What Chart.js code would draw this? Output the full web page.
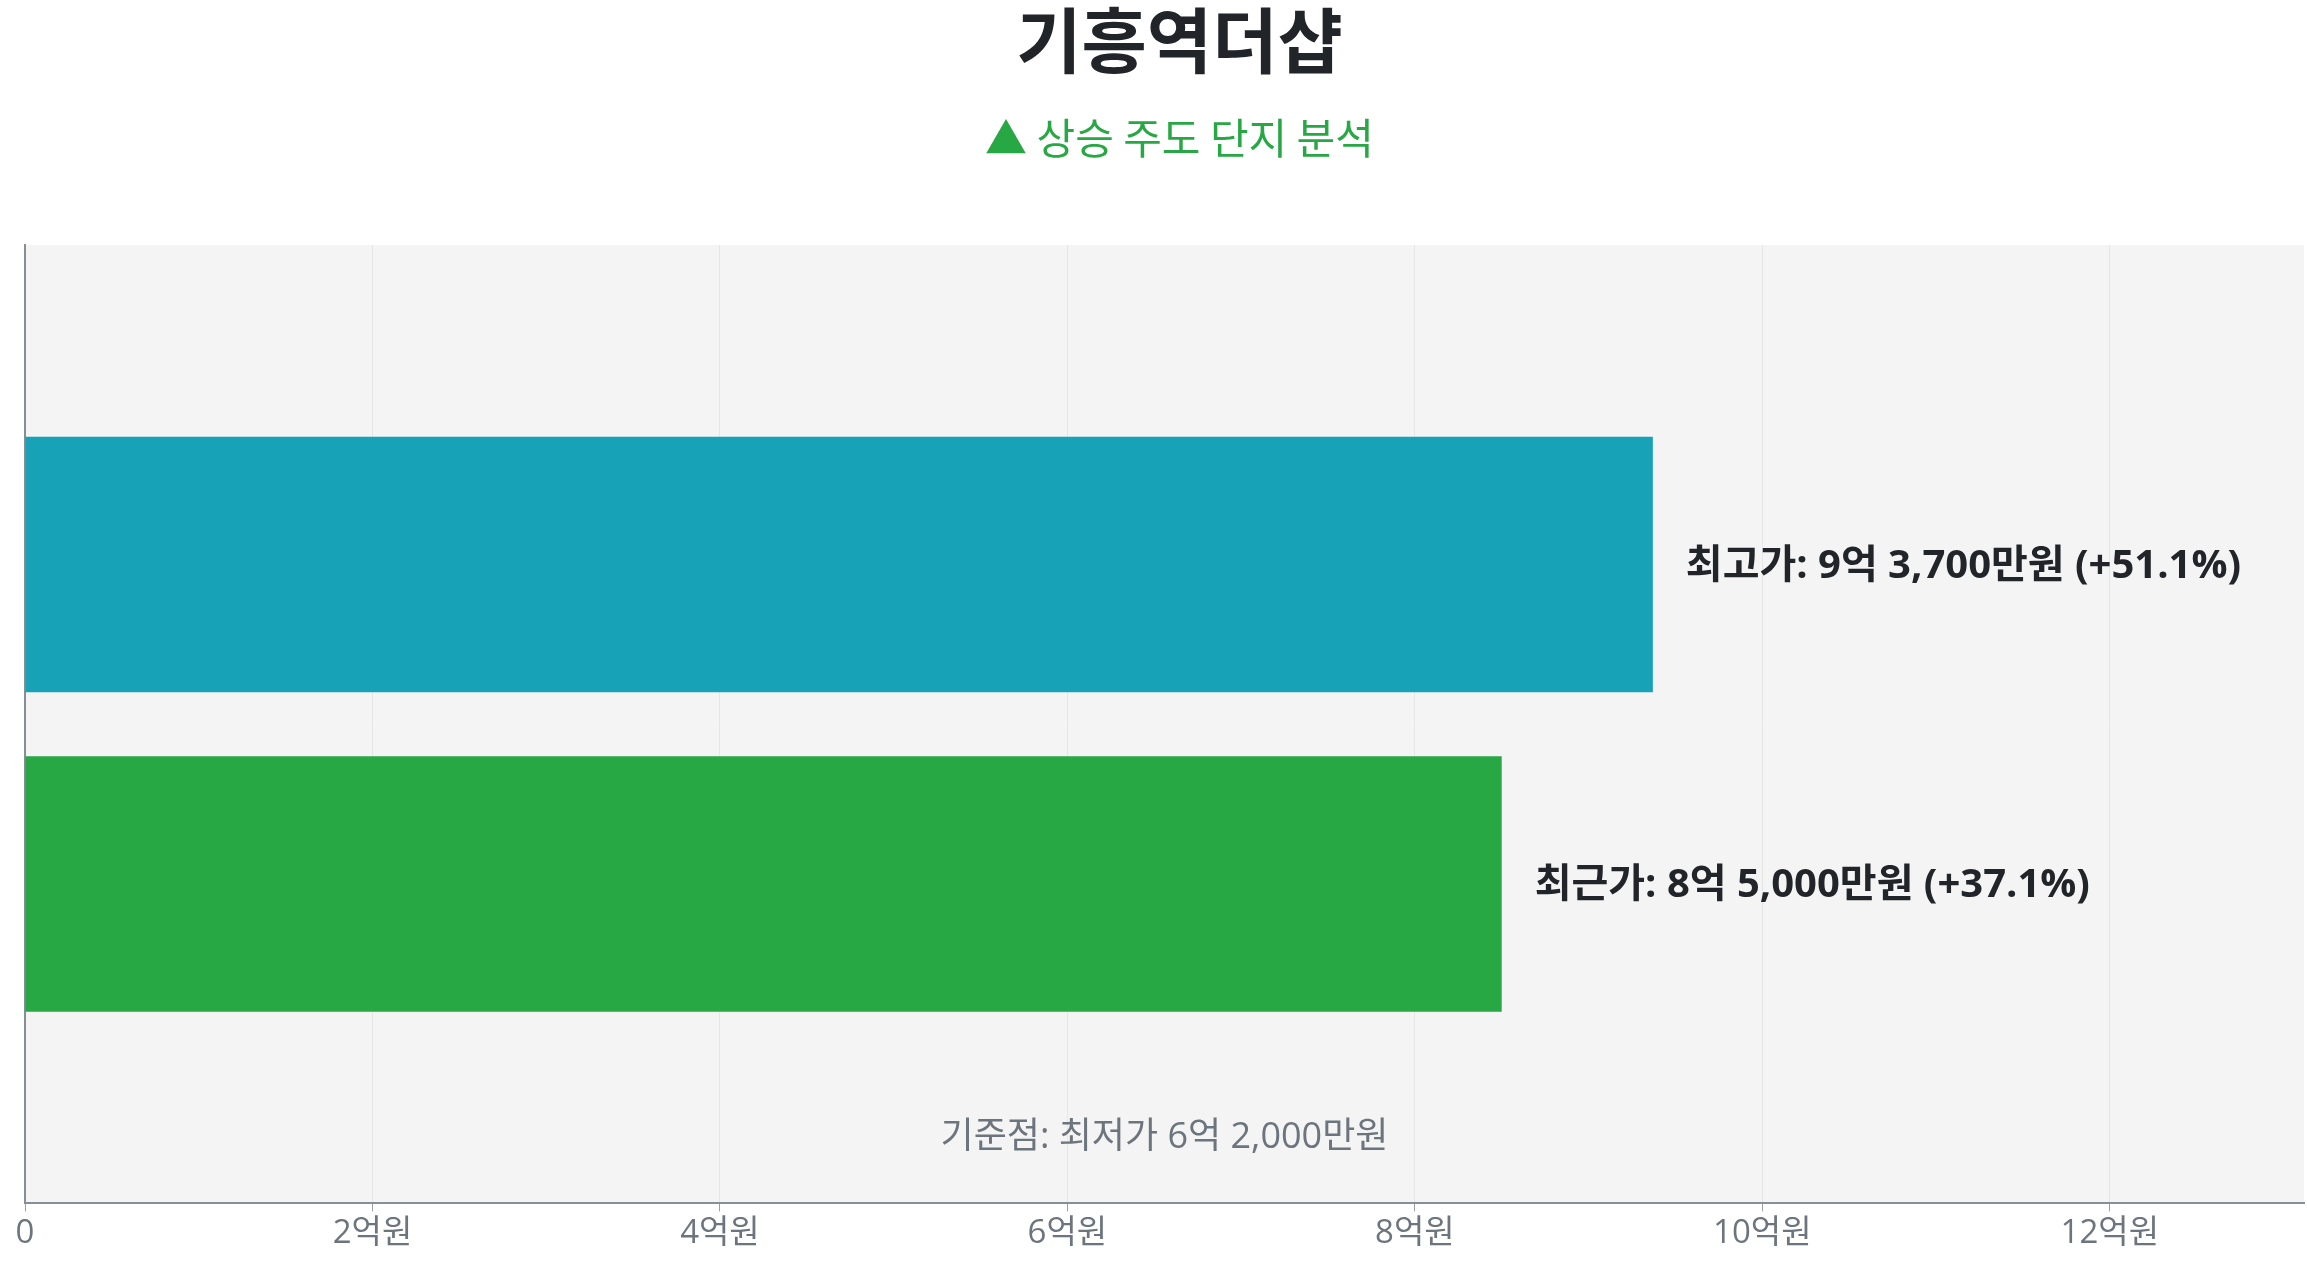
<!DOCTYPE html>
<html lang="ko">
<head>
<meta charset="utf-8">
<title>기흥역더샵</title>
<script src="https://cdn.jsdelivr.net/npm/chart.js@4.4.0/dist/chart.umd.min.js"></script>
<style>
  html, body { margin: 0; padding: 0; background: #fff; }
  #wrap { width: 100vw; height: 100vh; position: relative; }
</style>
</head>
<body>
<div id="wrap"><canvas id="priceChart"></canvas></div>
<script>
/* data (만원) */
var categories = ["", "최고가", "최근가", ""];
var prices = [null, 93700, 85000, null];
var barColors = ["#17a2b8", "#17a2b8", "#28a745", "#28a745"];
var basePrice = 62000; // 최저가
var tickValues = [0, 20000, 40000, 60000, 80000, 100000, 120000];
var titleText = "기흥역더샵";
var subtitleText = "▲ 상승 주도 단지 분석";

var FONT = "'Noto Sans CJK KR', 'Noto Sans', sans-serif";
var FONT_MIX = "'Open Sans', 'Noto Sans CJK KR', sans-serif";

function formatWon(v) {
  var eok = Math.floor(v / 10000);
  var man = v % 10000;
  var s = eok > 0 ? eok + "억" : "";
  if (man > 0) s += (s ? " " : "") + man.toLocaleString("en-US") + "만원";
  return s;
}

/* fill chart area */
var areaBg = {
  id: "areaBg",
  beforeDraw: function (chart) {
    var a = chart.chartArea, c = chart.ctx;
    c.save();
    c.fillStyle = "#f4f4f4";
    c.fillRect(a.left, a.top, a.right - a.left, a.bottom - a.top);
    c.restore();
  }
};

/* heading: title + subtitle (sits a bit right of centre in the original) */
var heading = {
  id: "heading",
  afterDraw: function (chart) {
    var c = chart.ctx;
    var cx = chart.width / 2 + 26;
    c.save();
    c.textAlign = "center";
    c.textBaseline = "middle";
    c.fillStyle = "#212529";
    c.font = "bold 71px " + FONT;
    c.fillText(titleText, cx, 40);
    c.fillStyle = "#28a745";
    c.font = "42px " + FONT;
    c.fillText(subtitleText, cx, 138);
    c.restore();
  }
};

/* labels at bar ends + base note */
var barLabels = {
  id: "barLabels",
  afterDatasetsDraw: function (chart) {
    var c = chart.ctx, a = chart.chartArea;
    var meta = chart.getDatasetMeta(0);
    c.save();
    c.font = "bold 40px " + FONT_MIX;
    c.fillStyle = "#212529";
    c.textBaseline = "middle";
    c.textAlign = "left";
    meta.data.forEach(function (bar, i) {
      var v = prices[i];
      if (v == null) return;
      var pct = ((v - basePrice) / basePrice * 100).toFixed(1);
      c.fillText(categories[i] + ": " + formatWon(v) + " (+" + pct + "%)", bar.x + 33, bar.y + 2);
    });
    c.font = "36px " + FONT_MIX;
    c.fillStyle = "#6c757d";
    c.textAlign = "center";
    c.fillText("기준점: 최저가 " + formatWon(basePrice), (a.left + a.right) / 2, a.bottom - 66);
    c.restore();
  }
};

var ctx = document.getElementById("priceChart");
if (ctx) {
  ctx.getContext("2d");
  var chart = new Chart(ctx, {
    type: "bar",
    data: {
      labels: categories,
      datasets: [{
        data: prices,
        backgroundColor: barColors,
        borderWidth: 0,
        categoryPercentage: 0.8,
        barPercentage: 1.0,
      }, ],
    },
    plugins: [areaBg, barLabels, heading],
    options: {
      indexAxis: "y",
      responsive: true,
      maintainAspectRatio: false,
      animation: false,
      layout: {
        padding: { left: 17, right: 3, top: 245, bottom: 13 },
      },
      plugins: {
        legend: { display: false },
        tooltip: { enabled: false },
      },
      scales: {
        x: {
          min: 0,
          max: prices[1] * 1.4,
          grid: { color: "#e6e6e6", tickColor: "#9aa0a6", tickLength: 8 },
          border: { display: true, color: "#868e96", width: 2 },
          afterBuildTicks: function (scale) {
            scale.ticks = tickValues.map(function (v) { return { value: v }; });
          },
          ticks: {
            padding: 2,
            color: "#6c757d",
            font: { family: FONT_MIX, size: 33 },
            callback: function (v) {
              return v === 0 ? "0" : (v / 10000) + "억원";
            },
          },
        },
        y: {
          offset: false,
          grid: { display: false },
          border: { display: true, color: "#868e96", width: 2 },
          ticks: { display: false },
        },
      },
    },
  });
}
</script>
</body>
</html>
